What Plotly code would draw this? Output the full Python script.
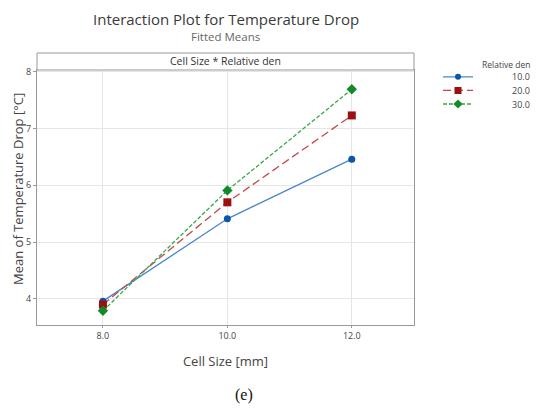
import plotly.graph_objects as go

# Interaction plot - fitted means
cell_size = [8.0, 10.0, 12.0]
rel_den_levels = ["10.0", "20.0", "30.0"]
mean_10 = [3.96, 5.41, 6.46]
mean_20 = [3.90, 5.70, 7.23]
mean_30 = [3.79, 5.91, 7.69]
x_ticks = ["8.0", "10.0", "12.0"]
y_ticks = [4, 5, 6, 7, 8]

font_main = "Open Sans, Noto Sans, sans-serif"

# page body adds an 8px offset; figure coords below already take that off
L, R, T, B = 29, 3, 62, 93
PW = 539 - L - R        # paper width
PH = 410 - T - B        # paper height
MAIN_W = 377            # width of the main panel in px


def px_x(fx):
    return (fx - L) / PW


def px_y(fy):
    return (410 - B - fy) / PH


fig = go.Figure()

styles = [
    dict(color="#4a86cc", marker_color="#0b56a8", symbol="circle", dash="solid", size=7, lsize=6),
    dict(color="#c04a4a", marker_color="#9b1010", symbol="square", dash="8px,4px", size=8, lsize=7),
    dict(color="#3aa64a", marker_color="#138a2a", symbol="diamond", dash="4px,2px", size=8, lsize=7),
]

for i, (lvl, ys, st) in enumerate(zip(rel_den_levels, [mean_10, mean_20, mean_30], styles)):
    fig.add_trace(go.Scatter(
        x=cell_size,
        y=ys,
        mode="lines+markers",
        name=lvl,
        line=dict(color=st["color"], width=1.3, dash=st["dash"]),
        marker=dict(color=st["marker_color"], symbol=st["symbol"], size=st["size"]),
    ))
    # legend swatch, drawn on its own small axis
    fig.add_trace(go.Scatter(
        x=[0, 2], y=[i, i], mode="lines", xaxis="x2", yaxis="y2",
        line=dict(color=st["color"], width=1.3, dash=st["dash"]), hoverinfo="skip",
    ))
    fig.add_trace(go.Scatter(
        x=[1], y=[i], mode="markers", xaxis="x2", yaxis="y2",
        marker=dict(color=st["marker_color"], symbol=st["symbol"], size=st["lsize"]), hoverinfo="skip",
    ))
    fig.add_annotation(text=lvl, xref="paper", yref="y2", x=px_x(524), y=i,
                       xanchor="right", yanchor="middle", showarrow=False,
                       font=dict(size=9, color="#444"))

fig.update_layout(
    width=539,
    height=410,
    margin=dict(l=L, r=R, t=T, b=B),
    paper_bgcolor="white",
    plot_bgcolor="white",
    font=dict(family=font_main, color="#444"),
    showlegend=False,
    xaxis=dict(
        domain=[0, MAIN_W / PW],
        range=[6.94, 13.0],
        tickvals=cell_size,
        ticktext=x_ticks,
        showgrid=True, gridcolor="#e6e6e6",
        showline=True, linecolor="#999", mirror=True, linewidth=1,
        zeroline=False,
        ticks="outside", ticklen=2, tickcolor="#999",
        tickfont=dict(size=9, color="#444"),
        title=dict(text="Cell Size [mm]", font=dict(size=13, color="#444"), standoff=16),
    ),
    yaxis=dict(
        range=[3.54, 8.03],
        tickvals=y_ticks,
        showgrid=True, gridcolor="#e6e6e6",
        showline=True, linecolor="#999", mirror=True, linewidth=1,
        zeroline=False,
        ticks="outside", ticklen=3, tickcolor="#999",
        tickfont=dict(size=9, color="#444"),
        automargin=False,
    ),
    xaxis2=dict(domain=[px_x(435), px_x(465)], range=[0, 2], visible=False, anchor="y2"),
    yaxis2=dict(domain=[0.84, 1.0], range=[2.5, -0.5], visible=False, anchor="x2"),
)

# y axis title, placed by hand to sit where the reference has it
fig.add_annotation(text="Mean of Temperature Drop [°C]", xref="paper", yref="paper",
                   x=px_x(10), y=px_y(181), textangle=-90, showarrow=False,
                   xanchor="center", yanchor="middle",
                   font=dict(size=13, color="#444"))

# header strip above the panel
fig.add_shape(type="rect", xref="paper", yref="paper",
              x0=0, x1=MAIN_W / PW, y0=1.0, y1=1.0 + 17 / PH,
              line=dict(color="#999", width=1), fillcolor="white")
fig.add_annotation(text="Cell Size * Relative den", xref="paper", yref="paper",
                   x=MAIN_W / PW / 2, y=1.0 + 8.5 / PH, showarrow=False,
                   font=dict(size=10.5, color="#333"), yanchor="middle")

fig.add_annotation(text="Interaction Plot for Temperature Drop", xref="paper", yref="paper",
                   x=MAIN_W / PW / 2, y=px_y(11), showarrow=False, yanchor="middle",
                   font=dict(size=15, color="#3a3a3a"))
fig.add_annotation(text="Fitted Means", xref="paper", yref="paper",
                   x=MAIN_W / PW / 2, y=px_y(28), showarrow=False, yanchor="middle",
                   font=dict(size=11.5, color="#666"))

fig.add_annotation(text="Relative den", xref="paper", yref="paper",
                   x=px_x(524), y=px_y(56), xanchor="right", yanchor="middle", showarrow=False,
                   font=dict(size=8.5, color="#444"))

fig.add_annotation(text="(e)", xref="paper", yref="paper",
                   x=px_x(236), y=px_y(387), showarrow=False, yanchor="middle",
                   font=dict(size=16, color="#111", family="Liberation Serif, DejaVu Serif, serif"))

fig.write_html("out.html")
